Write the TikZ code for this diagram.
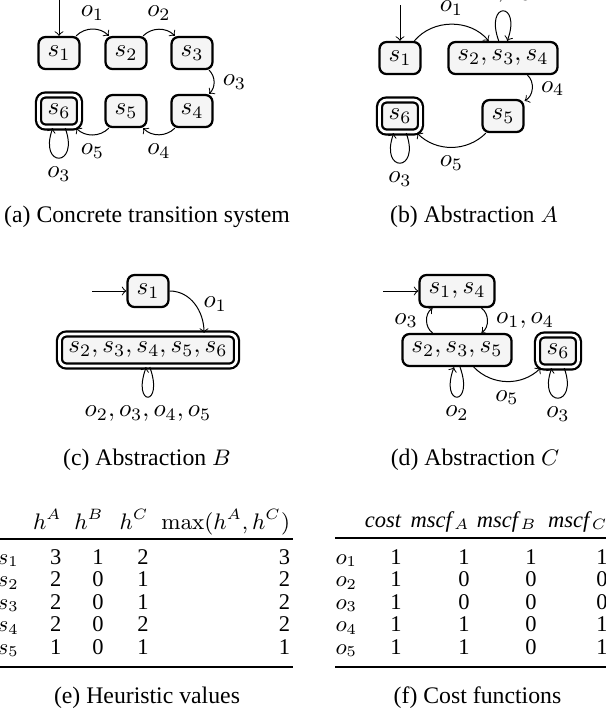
\documentclass[tikz,border=0pt]{standalone}
\usepackage[no-math]{fontspec}
\setmainfont{Liberation Serif}

\tikzset{
	state/.style	= {draw, line width=0.9pt, rounded corners=2.8pt, fill=gray!8,
			   minimum width=16.4pt, minimum height=12.8pt, inner xsep=3.6pt, inner ysep=1pt},
	goal/.style	= {state, double, double distance=1.1pt},
	caption/.style	= {font=\fontsize{9.5}{11}\selectfont},
	cell/.style	= {font=\fontsize{9}{10}\selectfont, inner sep=0pt, anchor=base east},
	rowhead/.style	= {cell, anchor=base west},
	rule/.style	= {line width=0.7pt}
}

\begin{document}
\begin{tikzpicture}[x=1pt, y=1pt, >=to]
	\useasboundingbox (0,0) rectangle (242.4,-284.4);
	\clip (0,0) rectangle (242.4,-284.4);

	% (a) concrete transition system
	\coordinate (a0) at (23.6,0.4);
	\node (a1) at (23.6,-21.2)	[state]	{$s_{1}$};
	\node (a2) at (50.4,-21.2)	[state]	{$s_{2}$};
	\node (a3) at (76.8,-21.2)	[state]	{$s_{3}$};
	\node (a4) at (76.8,-44.4)	[state]	{$s_{4}$};
	\node (a5) at (50.4,-44.4)	[state]	{$s_{5}$};
	\node (a6) at (23.6,-44.4)	[goal]	{$s_{6}$};
	\draw[->] (a0) -- (a1);
	\draw[->] (a1) to[bend left=45] node[above] {$o_{1}$} (a2);
	\draw[->] (a2) to[bend left=45] node[above] {$o_{2}$} (a3);
	\draw[->] (a3) to[bend left=45] node[right] {$o_{3}$} (a4);
	\draw[->] (a4) to[bend left=45] node[below] {$o_{4}$} (a5);
	\draw[->] (a5) to[bend left=45] node[below] {$o_{5}$} (a6);
	\draw[->] (a6.-70) .. controls +(-70:17pt) and +(-110:17pt) .. node[below] {$o_{3}$} (a6.-110);
	\node (capa) at (58.8,-86.8) [caption] {(a) Concrete transition system};

	% (b) abstraction A
	\coordinate (b0) at (160,-2);
	\node (b1)   at (160,-23.2)	[state]	{$s_{1}$};
	\node (b234) at (201.2,-23.2)	[state]	{$s_{2}, s_{3}, s_{4}$};
	\node (b5)   at (201.2,-46.4)	[state]	{$s_{5}$};
	\node (b6)   at (160,-46.4)	[goal]	{$s_{6}$};
	\draw[->] (b0) -- (b1);
	\draw[->] (b1) to[bend left=50] node[above] {$o_{1}$} (b234);
	\draw[->] (b234.104) .. controls +(110:17pt) and +(70:17pt) .. node[above] {$o_{2}, o_{3}$} (b234.76);
	\draw[->] (b234) to[bend left=55] node[right] {$o_{4}$} (b5);
	\draw[->] (b5) to[bend left=45] node[below] {$o_{5}$} (b6);
	\draw[->] (b6.-70) .. controls +(-70:17pt) and +(-110:17pt) .. node[below] {$o_{3}$} (b6.-110);
	\node (capb) at (189.6,-86.8) [caption] {(b) Abstraction $A$};

	% (c) abstraction B
	\coordinate (c0) at (36.8,-116.4);
	\node (c1)   at (59.2,-116.4)	[state]	{$s_{1}$};
	\node (cbig) at (59.2,-140)	[goal]	{$s_{2}, s_{3}, s_{4}, s_{5}, s_{6}$};
	\draw[->] (c0) -- (c1);
	\draw[->] (c1) to[out=0, in=90] node[right] {$o_{1}$} (cbig.17);
	\draw[->] (cbig.-84) .. controls +(-70:17pt) and +(-110:17pt) .. node[below] {$o_{2}, o_{3}, o_{4}, o_{5}$} (cbig.-96);
	\node (capc) at (58.8,-184) [caption] {(c) Abstraction $B$};

	% (d) abstraction C
	\coordinate (d0) at (153.2,-116.4);
	\node (d14)  at (182.8,-116.4)	[state]	{$s_{1}, s_{4}$};
	\node (d235) at (182.8,-140)	[state]	{$s_{2}, s_{3}, s_{5}$};
	\node (d6)   at (223.2,-140.4)	[goal]	{$s_{6}$};
	\draw[->] (d0) -- (d14);
	\draw[->] (d14) to[bend left=55] node[right] {$o_{1}, o_{4}$} (d235);
	\draw[->] (d235) to[bend left=55] node[left] {$o_{3}$} (d14);
	\draw[->] (d235.-80) .. controls +(-70:17pt) and +(-110:17pt) .. node[below] {$o_{2}$} (d235.-100);
	\draw[->] (d235) to[bend right=45] node[below] {$o_{5}$} (d6);
	\draw[->] (d6.-70) .. controls +(-70:17pt) and +(-110:17pt) .. node[below] {$o_{3}$} (d6.-110);
	\node (capd) at (190,-184) [caption] {(d) Abstraction $C$};

	% (e) heuristic values
	\node (eha) at ( 24.8,-211.6) [cell] {$h^{A}$};
	\node (ehb) at ( 41.6,-211.6) [cell] {$h^{B}$};
	\node (ehc) at ( 59.6,-211.6) [cell] {$h^{C}$};
	\node (ehm) at (116.2,-211.6) [cell] {$\max(h^{A}, h^{C})$};
	\draw[rule] (-1,-215.6) -- (117.2,-215.6);
	\foreach \i/\ha/\hb/\hc/\hm in {1/3/1/2/3, 2/2/0/1/2, 3/2/0/1/2, 4/2/0/2/2, 5/1/0/1/1} {
		\node (es\i) at ( -1.2,-216.6-9*\i) [rowhead] {$s_{\i}$};
		\node (ea\i) at ( 24.8,-216.6-9*\i) [cell] {\ha};
		\node (eb\i) at ( 41.6,-216.6-9*\i) [cell] {\hb};
		\node (ec\i) at ( 59.6,-216.6-9*\i) [cell] {\hc};
		\node (em\i) at (116.2,-216.6-9*\i) [cell] {\hm};
	}
	\draw[rule] (-1,-266.8) -- (117.2,-266.8);
	\node (cape) at (58.8,-279) [caption] {(e) Heuristic values};

	% (f) cost functions
	\node (fhc) at (160.8,-210.8) [cell] {\textit{cost}};
	\node (fha) at (188,-210.8)   [cell] {\textit{mscf}$_{A}$};
	\node (fhb) at (214.8,-210.8) [cell] {\textit{mscf}$_{B}$};
	\node (fhd) at (243.2,-210.8) [cell] {\textit{mscf}$_{C}$};
	\draw[rule] (134,-215.2) -- (244,-215.2);
	\foreach \i/\c/\ma/\mb/\mc in {1/1/1/1/1, 2/1/0/0/0, 3/1/0/0/0, 4/1/1/0/1, 5/1/1/0/1} {
		\node (fo\i) at (134,-216.6-9*\i)   [rowhead] {$o_{\i}$};
		\node (fc\i) at (160.8,-216.6-9*\i) [cell] {\c};
		\node (fa\i) at (188,-216.6-9*\i)   [cell] {\ma};
		\node (fb\i) at (214.8,-216.6-9*\i) [cell] {\mb};
		\node (fd\i) at (243.2,-216.6-9*\i) [cell] {\mc};
	}
	\draw[rule] (134,-266.8) -- (244,-266.8);
	\node (capf) at (191,-279) [caption] {(f) Cost functions};
\end{tikzpicture}
\end{document}
